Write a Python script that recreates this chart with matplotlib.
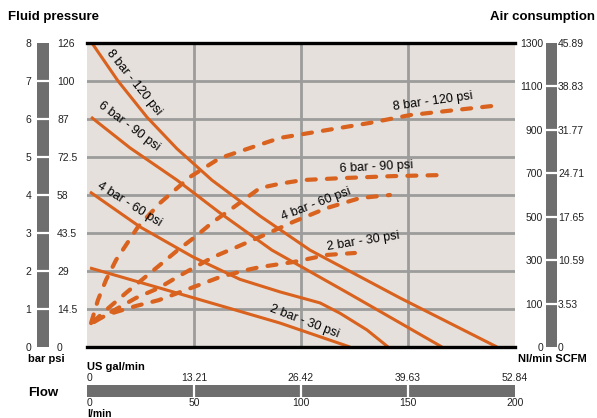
import numpy as np
import matplotlib
matplotlib.use("Agg")
import matplotlib.pyplot as plt

plt.rcParams["font.family"] = ["Liberation Sans", "DejaVu Sans"]
plt.rcParams["lines.scale_dashes"] = False

# * fluid pressure (bar) vs flow (l/min), solid curves
flow_8bar = [2.3, 14.5, 28.0, 42.0, 58.4, 80.8, 104.2, 146.3, 191.6]
pres_8bar = [8.0, 7.0, 6.05, 5.22, 4.39, 3.45, 2.55, 1.29, 0.0]
flow_6bar = [1.9, 20.1, 42.1, 62.1, 86.4, 122.9, 165.9]
pres_6bar = [6.05, 5.24, 4.39, 3.53, 2.55, 1.39, 0.0]
flow_4bar = [1.4, 24.8, 49.5, 71.5, 90.2, 108.9, 118.2, 130.8, 140.7]
pres_4bar = [4.08, 3.16, 2.37, 1.78, 1.45, 1.16, 0.89, 0.45, 0.0]
flow_2bar = [1.4, 34.1, 65.9, 90.2, 122.9]
pres_2bar = [2.08, 1.55, 1.03, 0.63, 0.0]

# * air consumption (Nl/min) vs flow, dashed curves
#   right scale is evenly spaced as in the original (0, 100, 300 ... 1300)
air_flow_8 = [1.9, 5.1, 8.9, 13.6, 19.2, 23.8, 34.1, 48.1, 62.1, 90.2, 132.2, 150.9, 193.0]
air_8 = [10, 116, 209, 301, 384, 453, 563, 683, 770, 863, 932, 968, 1014]
air_flow_6 = [2.8, 8.9, 18.7, 34.1, 42.5, 50.5, 58.9, 66.8, 80.8, 90.2, 100.9, 119.6, 143.0, 166.4]
air_6 = [15, 70, 153, 278, 347, 407, 476, 531, 632, 652, 669, 678, 687, 692]
air_flow_4 = [3.3, 11.2, 22.9, 33.6, 43.0, 50.5, 58.9, 70.1, 80.8, 96.3, 112.1, 127.6, 141.6]
air_4 = [15, 61, 126, 172, 227, 268, 314, 361, 407, 476, 540, 586, 600]
air_flow_2 = [3.7, 12.1, 22.9, 33.6, 42.5, 62.1, 74.8, 80.8, 96.3, 112.1, 125.2]
air_2 = [24, 57, 89, 116, 149, 222, 255, 268, 291, 324, 333]

curve_labels = ["8 bar - 120 psi", "6 bar - 90 psi", "4 bar - 60 psi", "2 bar - 30 psi"]

# * scales
bar_ticks = list(range(9))
bar_labels = ["0", "1", "2", "3", "4", "5", "6", "7", "8"]
psi_labels = ["0", "14.5", "29", "43.5", "58", "72.5", "87", "100", "126"]
air_ticks = [-100, 100, 300, 500, 700, 900, 1100, 1300]
nl_labels = ["0", "100", "300", "500", "700", "900", "1100", "1300"]
scfm_labels = ["0", "3.53", "10.59", "17.65", "24.71", "31.77", "38.83", "45.89"]
lpm_ticks = [0, 50, 100, 150, 200]
lpm_labels = ["0", "50", "100", "150", "200"]
gal_labels = ["0", "13.21", "26.42", "39.63", "52.84"]

W, H = 597, 418
orange = "#D9621E"
bg = "#E5E0DC"
grid_c = "#9C9C9C"
bar_c = "#6E6E6E"
txt_c = "#222222"


def fr(x0, y0, x1, y1):
    # pixel box -> figure fraction
    return [x0 / W, 1 - y1 / H, (x1 - x0) / W, (y1 - y0) / H]


fig = plt.figure(figsize=(W / 100, H / 100), dpi=100)

# * main plot
ax = fig.add_axes(fr(87, 43, 515, 347))
ax.set_facecolor(bg)
ax.set_xlim(0, 200)
ax.set_ylim(0, 8)
ax.set_xticks([50, 100, 150])
ax.set_yticks(range(1, 8))
ax.tick_params(length=0, labelbottom=False, labelleft=False)
ax.grid(True, color=grid_c, lw=2.0)
for s in ["left", "right"]:
    ax.spines[s].set_visible(False)
for s in ["top", "bottom"]:
    ax.spines[s].set_color("black")
    ax.spines[s].set_linewidth(2.4)

solid = dict(color=orange, lw=2.2, solid_capstyle="butt")
ax.plot(flow_8bar, pres_8bar, **solid)
ax.plot(flow_6bar, pres_6bar, **solid)
ax.plot(flow_4bar, pres_4bar, **solid)
ax.plot(flow_2bar, pres_2bar, **solid)

ax2 = ax.twinx()
ax2.set_ylim(-100, 1300)
ax2.set_yticks([])
for s in ax2.spines.values():
    s.set_visible(False)
dashed = dict(color=orange, lw=3.0, linestyle=(0, (6.5, 8)), dash_capstyle="round")
ax2.plot(air_flow_8, air_8, **dashed)
ax2.plot(air_flow_6, air_6, **dashed)
ax2.plot(air_flow_4, air_4, **dashed)
ax2.plot(air_flow_2, air_2, **dashed)

# curve labels (positions in flow / bar)
lab_solid = [(22.0, 6.96, -51), (19.5, 5.8, -37), (20.0, 3.76, -32), (101.4, 0.68, -21)]
lab_dash = [(161.7, 6.45, 8), (135.0, 4.74, 3), (107.0, 3.76, 21), (129.0, 2.79, 9)]
for lbl, (x, y, r) in zip(curve_labels, lab_solid):
    ax2.text(x, y, lbl, transform=ax.transData, rotation=r, rotation_mode="anchor",
             ha="center", va="center", fontsize=9, color="black")
for lbl, (x, y, r) in zip(curve_labels, lab_dash):
    ax2.text(x, y, lbl, transform=ax.transData, rotation=r, rotation_mode="anchor",
             ha="center", va="center", fontsize=9, color="black")

# * left scale bar (bar / psi)
axl = fig.add_axes(fr(37, 43, 49, 347))
axl.set_facecolor(bar_c)
axl.set_ylim(0, 8)
axl.set_xticks([])
axl.set_yticks(bar_ticks, bar_labels)
axl.tick_params(axis="y", length=0, pad=4.3, labelsize=7.5, labelcolor=txt_c)
for v in range(1, 8):
    axl.axhline(v, color="white", lw=1.6)
axl_r = axl.twinx()
axl_r.set_ylim(0, 8)
axl_r.set_yticks(bar_ticks, psi_labels)
axl_r.tick_params(axis="y", length=0, pad=5.8, labelsize=7.5, labelcolor=txt_c)
for a in (axl, axl_r):
    for s in a.spines.values():
        s.set_visible(False)

# * right scale bar (Nl/min / SCFM)
axr = fig.add_axes(fr(546, 43, 557, 347))
axr.set_facecolor(bar_c)
axr.set_ylim(-100, 1300)
axr.set_xticks([])
axr.set_yticks(air_ticks, nl_labels)
axr.tick_params(axis="y", length=0, pad=2.2, labelsize=7.5, labelcolor=txt_c)
for v in air_ticks[1:-1]:
    axr.axhline(v, color="white", lw=1.6)
axr_r = axr.twinx()
axr_r.set_ylim(-100, 1300)
axr_r.set_yticks(air_ticks, scfm_labels)
axr_r.tick_params(axis="y", length=0, pad=0.8, labelsize=7.5, labelcolor=txt_c)
for a in (axr, axr_r):
    for s in a.spines.values():
        s.set_visible(False)

# * bottom scale bar (l/min / US gal/min)
axb = fig.add_axes(fr(87, 385, 515, 397))
axb.set_facecolor(bar_c)
axb.set_xlim(0, 200)
axb.set_yticks([])
axb.set_xticks(lpm_ticks, lpm_labels)
axb.tick_params(axis="x", length=0, pad=1.0, labelsize=7.5, labelcolor=txt_c)
for v in lpm_ticks[1:-1]:
    axb.axvline(v, color="white", lw=1.6)
axb_t = axb.twiny()
axb_t.set_xlim(0, 200)
axb_t.set_xticks(lpm_ticks, gal_labels)
axb_t.tick_params(axis="x", length=0, pad=1.2, labelsize=7.5, labelcolor=txt_c)
for a in (axb, axb_t):
    for s in a.spines.values():
        s.set_visible(False)
axb.get_xticklabels()[0].set_ha("left")
axb_t.get_xticklabels()[0].set_ha("left")


# * titles and unit labels
def ftext(x, y, s, **kw):
    fig.text(x / W, 1 - y / H, s, **kw)


ftext(8, 17, "Fluid pressure", fontsize=9.5, fontweight="bold", va="center", ha="left")
ftext(595, 17, "Air consumption", fontsize=9.5, fontweight="bold", va="center", ha="right")
ftext(28, 359, "bar psi", fontsize=8, fontweight="bold", va="center", ha="left")
ftext(518, 359, "Nl/min SCFM", fontsize=8, fontweight="bold", va="center", ha="left")
ftext(87, 367, "US gal/min", fontsize=8, fontweight="bold", va="center", ha="left")
ftext(87, 414, "l/min", fontsize=7.5, fontweight="bold", va="center", ha="left")
ftext(28, 393, "Flow", fontsize=9.5, fontweight="bold", va="center", ha="left")

fig.savefig("out.png", dpi=100)
